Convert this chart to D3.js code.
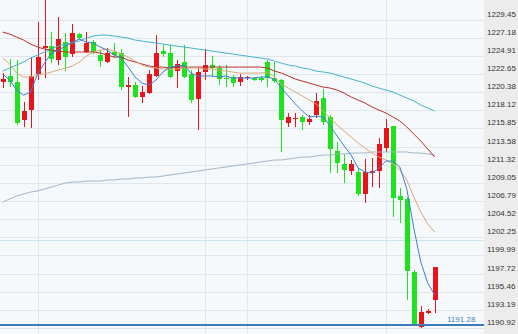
<!DOCTYPE html>
<html>
<head>
<meta charset="utf-8" />
<script src="https://d3js.org/d3.v7.min.js"></script>
<style>
  body { margin: 0; background: #f5f9fc; }
  svg { display: block; }
  .axis text { font: 8px "Liberation Sans", Arial, sans-serif; fill: #333; }
  .grid line { stroke: #dfe6ec; }
</style>
</head>
<body>
<svg id="chart" width="518" height="334"></svg>
<script>
// candles, one per bar (red = up, green = down)
var opens = [1221.65,1222.40,1221.65,1216.90,1218.15,1222.65,1225.89,1226.14,1224.40,1226.64,
  1225.15,1227.64,1225.40,1226.64,1225.02,1224.15,1225.40,1225.27,1221.02,1221.27,
  1219.77,1220.27,1222.40,1225.52,1225.27,1223.02,1224.15,1222.65,1219.52,1222.90,
  1223.77,1223.40,1222.15,1222.27,1221.65,1222.15,1222.15,1222.15,1224.15,1222.15,
  1221.90,1216.53,1217.00,1217.28,1216.65,1217.53,1219.65,1217.28,1213.03,1211.41,
  1210.53,1210.41,1207.66,1210.28,1210.53,1213.40,1216.15,1207.41,1207.03,1197.92,
  1191.05,1192.80,1194.42];
var highs = [1222.77,1224.52,1224.40,1219.15,1224.77,1229.14,1232.20,1227.89,1229.77,1227.77,
  1228.89,1227.77,1227.89,1226.89,1225.64,1225.89,1226.52,1225.77,1222.27,1221.65,
  1221.15,1223.15,1227.52,1226.27,1226.27,1224.40,1226.27,1223.15,1223.40,1225.77,
  1224.90,1223.77,1223.77,1222.52,1222.65,1222.40,1222.27,1222.40,1224.40,1224.15,
  1222.02,1217.78,1217.78,1217.53,1217.53,1220.27,1220.77,1217.53,1214.15,1212.66,
  1211.91,1210.91,1212.03,1212.16,1214.65,1217.03,1216.15,1208.41,1207.28,1198.17,
  1193.67,1193.30,1198.54];
var lows = [1220.90,1221.02,1216.28,1216.03,1215.90,1221.90,1222.15,1224.02,1223.77,1223.02,
  1224.77,1226.89,1225.27,1225.15,1223.52,1224.02,1224.65,1220.65,1217.28,1219.65,
  1219.03,1220.15,1222.27,1224.77,1222.15,1220.90,1222.15,1219.03,1215.65,1221.90,
  1222.27,1221.27,1221.02,1221.02,1221.15,1221.90,1221.77,1221.65,1221.02,1221.52,
  1212.91,1216.03,1216.03,1215.65,1216.28,1217.15,1216.28,1210.28,1210.28,1209.03,
  1210.03,1207.41,1206.54,1208.53,1208.41,1212.91,1204.79,1204.04,1194.42,1191.17,
  1190.92,1192.67,1192.80];
var closes = [1222.02,1221.65,1216.53,1218.03,1222.40,1224.77,1226.14,1224.52,1227.02,1224.77,
  1227.77,1227.14,1226.52,1225.40,1224.27,1225.27,1225.02,1221.02,1221.27,1219.77,
  1220.40,1222.65,1225.27,1225.15,1222.27,1223.90,1222.27,1219.40,1222.90,1223.77,
  1223.40,1222.02,1222.02,1221.52,1222.27,1222.27,1221.90,1221.90,1222.15,1221.77,
  1216.90,1217.28,1217.10,1216.65,1217.03,1219.28,1216.65,1213.28,1211.53,1210.66,
  1211.41,1207.66,1210.41,1210.53,1213.90,1215.90,1207.16,1206.91,1198.04,1191.17,
  1192.92,1193.05,1198.54];

// moving average lines, one value per bar
var ma5 = [1222.65,1221.90,1220.65,1220.02,1220.40,1222.65,1224.02,1225.27,1225.65,1226.14,
  1226.64,1227.02,1226.64,1226.52,1226.02,1225.65,1225.02,1224.65,1223.52,1222.27,
  1221.52,1221.27,1221.90,1222.90,1223.52,1223.65,1223.77,1222.77,1222.40,1222.40,
  1222.40,1222.27,1222.40,1222.15,1222.15,1222.15,1222.15,1222.27,1222.27,1222.02,
  1220.90,1219.90,1218.90,1218.03,1217.28,1217.40,1217.28,1216.15,1214.90,1213.65,
  1212.53,1210.91,1210.41,1210.28,1210.91,1211.78,1211.78,1211.03,1208.28,1203.41,
  1199.17,1196.54,1195.04];
var ma10 = [1224.65,1223.90,1222.77,1222.27,1222.27,1222.52,1222.65,1222.90,1223.15,1223.40,
  1223.65,1224.15,1224.90,1225.40,1225.65,1225.77,1225.52,1225.15,1224.77,1224.27,
  1223.77,1223.52,1223.40,1223.27,1223.27,1223.27,1223.40,1223.40,1223.40,1223.27,
  1223.27,1223.15,1223.02,1222.90,1222.77,1222.77,1222.77,1222.77,1222.90,1222.27,
  1221.40,1220.90,1220.40,1219.90,1219.40,1218.90,1218.03,1217.15,1216.28,1215.53,
  1214.78,1214.03,1213.41,1212.78,1212.28,1211.91,1211.41,1210.66,1209.41,1207.29,
  1205.41,1203.91,1202.91];
var ma30 = [1227.89,1227.64,1227.27,1226.89,1226.39,1226.02,1225.77,1225.65,1225.52,1225.40,
  1225.40,1225.40,1225.40,1225.40,1225.27,1225.02,1224.77,1224.77,1224.40,1224.15,
  1223.90,1223.65,1223.52,1223.52,1223.40,1223.52,1223.52,1223.52,1223.52,1223.52,
  1223.52,1223.52,1223.52,1223.52,1223.52,1223.52,1223.52,1223.52,1223.40,1223.02,
  1222.77,1222.40,1222.02,1221.77,1221.52,1221.27,1221.02,1220.90,1220.65,1220.27,
  1219.78,1219.40,1219.03,1218.53,1218.15,1217.78,1217.28,1216.78,1216.03,1215.15,
  1214.28,1213.28,1212.28];
var ma60 = [1223.02,1223.40,1223.77,1224.15,1224.65,1225.02,1225.40,1225.77,1226.14,1226.39,
  1226.52,1226.77,1227.14,1227.39,1227.52,1227.52,1227.39,1227.27,1227.14,1226.89,
  1226.77,1226.64,1226.52,1226.39,1226.27,1226.14,1226.02,1225.90,1225.77,1225.65,
  1225.52,1225.40,1225.27,1225.15,1225.02,1224.90,1224.77,1224.65,1224.52,1224.27,
  1224.02,1223.77,1223.65,1223.40,1223.27,1223.02,1222.90,1222.77,1222.52,1222.27,
  1222.02,1221.77,1221.52,1221.15,1220.90,1220.65,1220.40,1220.02,1219.65,1219.28,
  1218.78,1218.40,1218.03];
var maLong = [1206.66,1207.04,1207.41,1207.66,1207.91,1208.03,1208.28,1208.53,1208.78,1209.03,
  1209.16,1209.16,1209.28,1209.28,1209.28,1209.41,1209.41,1209.53,1209.53,1209.66,
  1209.66,1209.78,1209.78,1209.91,1210.03,1210.16,1210.28,1210.41,1210.53,1210.66,
  1210.78,1210.91,1211.03,1211.16,1211.28,1211.41,1211.53,1211.66,1211.78,1211.91,
  1211.91,1212.03,1212.16,1212.28,1212.28,1212.41,1212.53,1212.53,1212.66,1212.66,
  1212.78,1212.78,1212.78,1212.91,1212.91,1212.91,1212.91,1212.91,1212.91,1212.78,
  1212.78,1212.66,1212.53];

// price axis tick labels
var ticks = [1190.92,1193.19,1195.46,1197.72,1199.99,1202.25,1204.52,1206.79,1209.05,
  1211.32,1213.58,1215.85,1218.12,1220.38,1222.65,1224.91,1227.18,1229.45];
var dayBreaks = [5, 29, 35, 55];   // bar index of vertical grid lines
var lastPrice = 1191.28;
var refLevel = 1201.90;

var svg = d3.select("#chart"),
  width = +svg.attr("width"),
  height = +svg.attr("height"),
  plotW = 484;

var x = d3.scaleLinear().domain([0, 62]).range([2.7, 434.7]);
var y = d3.scaleLinear().domain([1190.92, 1229.45]).range([328, 19.6]);

svg.append("rect").attr("width", plotW).attr("height", height).attr("fill", "#f5f9fc");
svg.append("rect").attr("x", plotW).attr("width", width - plotW).attr("height", height).attr("fill", "#ececec");

svg.append("clipPath").attr("id", "clip")
  .append("rect").attr("width", plotW).attr("height", height);

// horizontal grid
svg.append("g").attr("class", "grid")
  .attr("shape-rendering", "crispEdges")
  .call(d3.axisLeft(y).tickValues(ticks).tickSize(-plotW).tickFormat(""))
  .call(g => g.select(".domain").remove());

// vertical grid
svg.append("g").attr("class", "grid")
  .attr("shape-rendering", "crispEdges")
  .selectAll("line").data(dayBreaks).enter().append("line")
  .attr("x1", d => Math.round(x(d)) + 0.5).attr("x2", d => Math.round(x(d)) + 0.5)
  .attr("y1", 0).attr("y2", height);

svg.append("line")
  .attr("x1", 0).attr("x2", plotW)
  .attr("y1", Math.round(y(refLevel)) + 0.5).attr("y2", Math.round(y(refLevel)) + 0.5)
  .attr("stroke", "#c6e6ee");

var plot = svg.append("g").attr("clip-path", "url(#clip)");

var bars = d3.range(opens.length).map(i => ({
  i: i, o: opens[i], h: highs[i], l: lows[i], c: closes[i]
}));
var col = d => d.c >= d.o ? "#e8141c" : "#1ee21e";

var cg = plot.append("g").attr("shape-rendering", "crispEdges");
cg.selectAll("line.wick").data(bars).enter().append("line")
  .attr("class", "wick")
  .attr("x1", d => Math.round(x(d.i)) + 0.5).attr("x2", d => Math.round(x(d.i)) + 0.5)
  .attr("y1", d => y(d.h)).attr("y2", d => y(d.l))
  .attr("stroke", col);
cg.selectAll("rect").data(bars).enter().append("rect")
  .attr("x", d => Math.round(x(d.i)) - 2)
  .attr("width", 5)
  .attr("y", d => y(Math.max(d.o, d.c)))
  .attr("height", d => Math.max(1, Math.abs(y(d.o) - y(d.c))))
  .attr("fill", col);

var line = d3.line().x((d, i) => x(i)).y(d => y(d));
[[maLong, "#a3b6c6"], [ma60, "#45b5c6"], [ma30, "#b8302c"], [ma10, "#dca879"], [ma5, "#3f7fd0"]]
  .forEach(function (s) {
    plot.append("path").datum(s[0])
      .attr("d", line)
      .attr("fill", "none")
      .attr("stroke", s[1])
      .attr("stroke-width", 1);
  });

// last price line
svg.append("line")
  .attr("x1", 0).attr("x2", plotW)
  .attr("y1", y(lastPrice)).attr("y2", y(lastPrice))
  .attr("stroke", "#3d7cb9").attr("stroke-width", 2);
svg.append("text")
  .attr("x", 447).attr("y", y(lastPrice) - 3)
  .attr("fill", "#4a7db5")
  .style("font", "8px 'Liberation Sans', Arial, sans-serif")
  .text(d3.format(".2f")(lastPrice));

// price axis
svg.append("g").attr("class", "axis")
  .attr("transform", "translate(487,0)")
  .call(d3.axisRight(y).tickValues(ticks).tickSize(0).tickPadding(0).tickFormat(d3.format(".2f")))
  .call(g => g.select(".domain").remove())
  .selectAll("text").attr("dy", -3.5);
</script>
</body>
</html>
